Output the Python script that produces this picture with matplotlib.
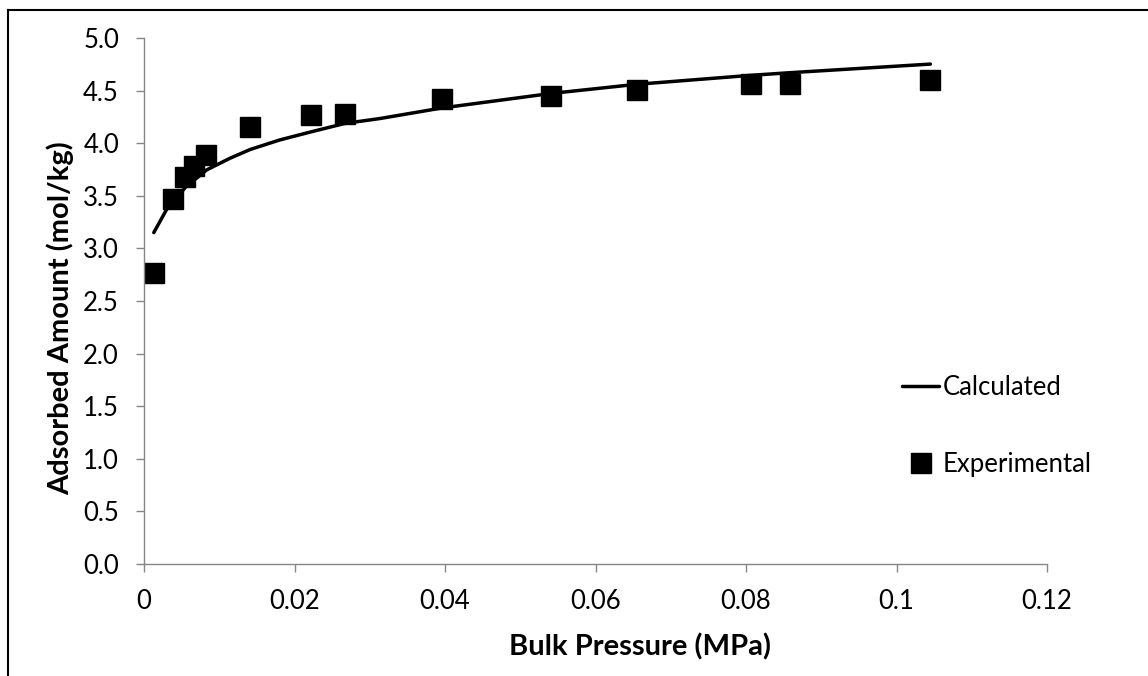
import matplotlib
matplotlib.use("Agg")
import matplotlib.pyplot as plt
from matplotlib.lines import Line2D

plt.rcParams['font.family'] = ['Lato', 'DejaVu Sans']

# experimental points
p_exp = [0.0013, 0.0038, 0.0055, 0.0067, 0.0083, 0.0141, 0.0222, 0.0267,
         0.0396, 0.0541, 0.0655, 0.0806, 0.0858, 0.1044]
q_exp = [2.77, 3.47, 3.68, 3.78, 3.89, 4.15, 4.27, 4.28,
         4.42, 4.45, 4.51, 4.56, 4.56, 4.60]

# calculated curve
p_calc = [0.0013, 0.0030, 0.0055, 0.0083, 0.0114, 0.0141, 0.0180, 0.0222,
          0.0267, 0.0314, 0.0396, 0.0541, 0.0655, 0.0806, 0.0858, 0.1045]
q_calc = [3.15, 3.37, 3.58, 3.745, 3.856, 3.94, 4.03, 4.108,
          4.188, 4.235, 4.335, 4.473, 4.56, 4.645, 4.67, 4.752]

xticks = [0, 0.02, 0.04, 0.06, 0.08, 0.1, 0.12]
xlabels = ["0", "0.02", "0.04", "0.06", "0.08", "0.1", "0.12"]
yticks = [0.0, 0.5, 1.0, 1.5, 2.0, 2.5, 3.0, 3.5, 4.0, 4.5, 5.0]

W, H = 1148, 676
fig = plt.figure(figsize=(W / 100, H / 100), dpi=100)
ax = fig.add_axes([144 / W, 1 - 564 / H, (1047 - 144) / W, (564 - 38) / H])

line, = ax.plot(p_calc, q_calc, color="black", lw=2.5, solid_capstyle="round",
                zorder=3)
pts, = ax.plot(p_exp, q_exp, ls="none", marker="s", ms=14.4, color="black",
               zorder=2)

ax.set_xlim(0, 0.12)
ax.set_ylim(0, 5)
ax.set_xticks(xticks)
ax.set_xticklabels(xlabels)
ax.set_yticks(yticks)
ax.set_yticklabels([f"{v:.1f}" for v in yticks])

for s in ["top", "right"]:
    ax.spines[s].set_visible(False)
for s in ["left", "bottom"]:
    ax.spines[s].set_color("#868686")
    ax.spines[s].set_linewidth(1.0)
ax.tick_params(axis="both", direction="out", length=6, width=1.0,
               color="#868686", labelsize=18.5, pad=12)

ax.set_xlabel("Bulk Pressure (MPa)", fontsize=21, fontweight="bold", va="center")
ax.xaxis.set_label_coords(0.549, -0.157)
ax.set_ylabel("Adsorbed Amount (mol/kg)", fontsize=21, fontweight="bold",
              va="center")
ax.yaxis.set_label_coords(-0.093, 0.467)

ax.legend([line, pts], ["Calculated", "Experimental"], frameon=False,
          loc="center left", bbox_to_anchor=(902 / W, 1 - 426 / H),
          bbox_transform=fig.transFigure, fontsize=18.5, handlelength=1.45,
          handletextpad=0.15, labelspacing=2.0, borderpad=0, borderaxespad=0)

# outer frame (left and top edges only)
fig.add_artist(Line2D([8 / W, 8 / W], [0, 1 - 10 / H], color="black", lw=1.5,
                      transform=fig.transFigure))
fig.add_artist(Line2D([8 / W, 1], [1 - 10 / H, 1 - 10 / H], color="black",
                      lw=1.5, transform=fig.transFigure))

fig.savefig("out.png", dpi=100)
